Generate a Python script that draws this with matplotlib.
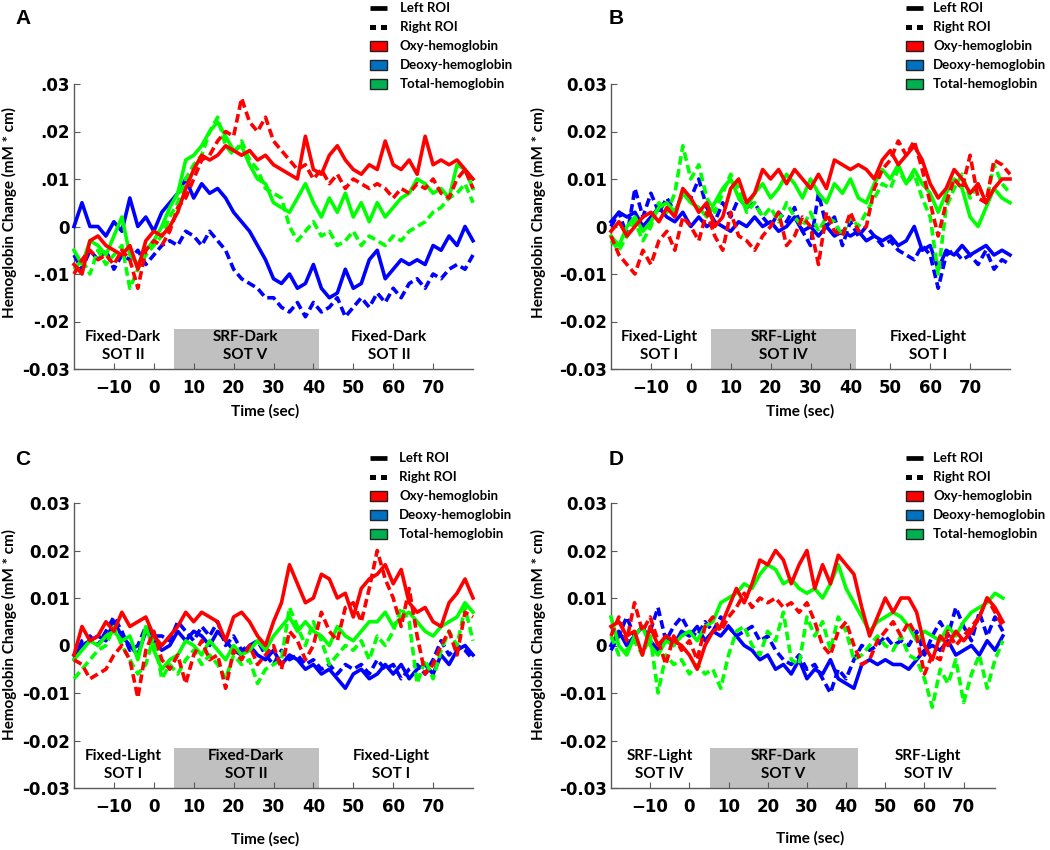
import numpy as np
import matplotlib
matplotlib.use("Agg")
import matplotlib.pyplot as plt
from matplotlib.lines import Line2D
from matplotlib.patches import Rectangle

# time grid (sec), one value every 2 s
t = list(range(-20, 81, 2))

# hemoglobin change, in 1e-3 mM*cm
# panel A
a_oxy_l = [-8, -10, -3, -2, -4, -5, -6, -4, -9, -3, -1, -2, 0, 3, 8, 12, 15, 14, 15, 17,
           16, 15, 16, 14, 15, 13, 12, 11, 10, 19, 12, 11, 15, 17, 14, 12, 11, 13, 12, 18,
           13, 12, 14, 11, 19, 13, 14, 13, 14, 12, 10]
a_oxy_r = [-10, -7, -5, -7, -6, -8, -5, -7, -13, -5, -3, -4, -1, 4, 6, 10, 14, 15, 18, 20,
           19, 27, 22, 20, 23, 18, 16, 14, 12, 13, 10, 12, 9, 11, 8, 10, 9, 8, 9, 8,
           6, 8, 7, 9, 8, 10, 7, 6, 10, 12, 8]
a_deo_l = [0, 5, 0, 0, -2, 1, -1, 6, 0, 2, -1, 3, 5, 7, 10, 6, 9, 7, 8, 6,
           3, 1, -1, -4, -7, -11, -12, -10, -13, -12, -8, -13, -15, -14, -9, -13, -12, -7, -5, -11,
           -9, -7, -8, -7, -8, -4, -5, -2, -4, 0, -3]
a_deo_r = [-6, -9, -5, -7, -5, -9, -6, -7, -5, -8, -6, -4, -3, -4, -1, -2, -4, -1, -3, -5,
           -9, -11, -12, -13, -15, -15, -17, -18, -16, -19, -16, -18, -17, -15, -19, -17, -15, -17, -14, -16,
           -13, -15, -12, -11, -13, -10, -11, -9, -8, -9, -6]
a_tot_l = [-5, -8, -3, -4, -6, -2, 2, -6, -8, -5, -3, 0, 4, 7, 14, 15, 17, 20, 22, 19,
           16, 17, 13, 10, 9, 5, 4, 3, 6, 9, 5, 2, 6, 3, 7, 2, 5, 1, 5, 2,
           4, 6, 7, 10, 9, 7, 8, 6, 13, 12, 8]
a_tot_r = [-9, -7, -10, -5, -8, -6, -4, -13, -9, -6, -4, -2, 2, 5, 10, 13, 15, 20, 23, 17,
           15, 18, 14, 12, 8, 7, 6, 0, -3, -1, 1, -2, -1, -4, -3, -1, -4, -2, -3, -4,
           -2, -3, -1, 0, 1, 3, 4, 6, 7, 9, 5]

# panel B
b_oxy_l = [-1, 1, -2, 0, 2, 3, 1, 4, 2, 8, 6, 3, 5, 0, 2, 8, 10, 5, 7, 12,
           10, 12, 9, 12, 10, 8, 11, 8, 14, 13, 12, 13, 12, 10, 14, 16, 13, 15, 17, 14,
           9, 6, 8, 12, 10, 7, 9, 5, 8, 10, 10]
b_oxy_r = [-2, -6, -8, -10, -5, -8, -3, -1, -5, 2, 0, -3, 3, -2, -5, 3, -2, -3, -5, -2,
           0, 3, -4, -2, 2, 0, -8, 3, -1, -2, 3, -1, 0, 8, 12, 14, 18, 15, 18, 12,
           5, -2, 5, 10, 8, 15, 6, 5, 14, 13, 11]
b_deo_l = [1, 3, 2, 3, 0, 2, 4, 2, 1, 3, 0, 2, 0, 1, 0, -1, 1, 0, 2, 0,
           1, -1, 0, 2, -1, 0, -2, 0, -2, -1, -2, -1, -3, -2, -3, -2, -4, -3, 0, -5,
           -4, -9, -5, -6, -4, -6, -5, -4, -6, -5, -6]
b_deo_r = [0, 3, -2, 8, 2, 7, 3, 6, 3, 7, 6, 10, 4, 1, 5, 2, 6, 4, 5, 2,
           0, 3, 1, 4, -1, -4, 7, 0, 2, -4, 1, -2, 0, -2, -4, -3, -5, -6, -7, -4,
           -6, -13, -6, -5, -7, -6, -8, -5, -9, -7, -8]
b_tot_l = [-2, -4, 0, 2, -1, 1, 4, 5, 3, 7, 5, 4, 2, 5, 8, 10, 6, 4, 7, 9,
           6, 8, 11, 9, 6, 10, 7, 5, 9, 7, 10, 6, 5, 9, 12, 10, 13, 9, 12, 9,
           7, 3, 7, 10, 8, 2, 0, 4, 8, 6, 5]
b_tot_r = [-3, -5, -2, 1, -3, 0, 5, 3, 7, 17, 10, 13, 6, 3, 7, 11, 8, 3, 5, 2,
           4, 1, 5, 2, 0, 3, -1, 2, 1, -2, 2, 0, 3, 6, 9, 8, 12, 9, 11, 6,
           2, -10, 4, 8, 11, 6, 9, 5, 13, 9, 7]

# panel C
c_oxy_l = [-2, 4, 1, 2, 5, 3, 7, 4, 5, 6, 2, 0, 2, 4, 7, 5, 7, 6, 5, 1,
           6, 7, 5, 2, 0, 5, 9, 17, 13, 9, 10, 15, 14, 10, 11, 6, 12, 14, 15, 17,
           13, 16, 9, 7, 8, 5, 4, 9, 11, 14, 10]
c_oxy_r = [-3, -4, -7, -6, -5, -2, 0, -3, -11, -1, 3, -3, -5, -2, -8, -2, 1, -3, -2, -9,
           -1, -3, 0, -4, -2, 0, -5, 3, 1, -3, 0, 7, 3, 1, 8, 9, 5, 12, 20, 14,
           10, 4, 12, 2, -6, -4, 0, 3, -2, 7, 6]
c_deo_l = [-2, 0, 1, 2, 1, 5, 2, 0, -2, 3, 1, -1, 0, 3, 1, 3, 2, 0, 3, 1,
           -1, -2, 0, -2, -3, -1, -4, -2, -3, -5, -4, -6, -5, -7, -9, -6, -5, -7, -6, -4,
           -6, -4, -7, -5, -4, -6, -2, -4, -1, 0, -2]
c_deo_r = [-3, 1, 2, 0, 3, 6, 3, -1, 0, 4, 2, 2, 1, 5, 3, 1, 4, 2, 5, 0,
           2, -1, 0, 1, -2, -4, -1, -3, -2, -4, -3, -5, -4, -6, -4, -5, -4, -6, -3, -5,
           -4, -7, -5, -4, -6, -3, 1, -2, 0, -1, -3]
c_tot_l = [-3, -1, 1, 0, 2, 3, 1, 2, -3, 4, -1, -5, -3, -2, 1, 0, -2, 1, -1, -3,
           0, -2, -1, 1, -1, 2, 4, 6, 3, 5, 3, 2, 0, 4, 2, 1, 3, 5, 5, 7,
           4, 6, 7, 5, 3, 2, 4, 5, 6, 9, 7]
c_tot_r = [-7, -5, -3, -1, 0, 4, 0, -3, -6, -4, 2, -7, -4, -6, -3, -1, -4, -2, -4, -7,
           -2, -4, -3, -8, -5, -4, -3, 8, 4, 0, 5, 1, -4, -2, 0, -1, 1, -3, 2, 0,
           3, 8, 5, -8, -3, -7, -1, 3, 0, 8, 1]

# panel D
d_oxy_l = [4, 5, 2, 3, -2, 4, 0, 2, 1, 0, -2, -5, 0, 3, 4, 8, 12, 9, 13, 18,
           17, 20, 18, 13, 17, 20, 12, 17, 13, 19, 17, 15, 8, 2, 6, 10, 7, 10, 10, 7,
           0, -3, 2, 0, 3, 1, 3, 6, 10, 8, 5]
d_oxy_r = [2, 6, 1, 9, 3, 6, 1, -4, 2, -1, 1, -3, 4, 6, 3, 6, 8, 11, 8, 10,
           9, 10, 8, 9, 7, 9, 5, 0, -2, 3, 5, 0, -4, -3, 1, 3, 5, 2, 5, 2,
           -6, -2, -3, 3, 0, 2, 4, 6, 10, 7, 4]
d_deo_l = [0, 3, 0, 2, 4, 1, -1, 2, 0, 3, 2, 4, 1, 3, 2, 4, 2, 0, -1, -3,
           -2, -5, -4, -6, -3, -7, -5, -6, -3, -7, -8, -9, -4, -3, -4, -3, -4, -4, -5, -3,
           -1, 0, -1, 1, -2, -1, 0, -2, 1, -1, 2]
d_deo_r = [-1, 2, 6, 2, 4, 3, 8, 1, 4, 6, 3, 2, 5, 3, 6, 4, 2, 3, 4, 1,
           2, -1, -3, -4, -2, -5, -4, -7, -10, -5, -7, -3, 0, -1, 0, 2, 0, 1, 0, 3,
           -2, 2, 5, 2, 8, 4, 1, 7, 2, 6, 3]
d_tot_l = [6, 0, -2, 2, 4, 0, -2, 1, 0, 2, 3, 1, 4, 5, 9, 10, 11, 13, 12, 15,
           17, 16, 13, 14, 12, 11, 12, 10, 13, 17, 12, 9, 6, 3, 5, 6, 7, 6, 4, 1,
           3, 2, 1, 4, 2, 5, 7, 8, 9, 11, 10]
d_tot_r = [2, -2, -1, 1, -2, 2, -10, -2, -4, -3, -6, -4, -6, -5, -9, -2, 3, 4, 0, -2,
           3, 1, 7, -3, -4, 6, 2, 5, -1, 6, 3, -3, -2, 0, 2, 0, -1, 2, -2, -3,
           -7, -13, -5, -8, -3, -12, -6, -2, -9, -3, 1]

yticks = [-0.03, -0.02, -0.01, 0, 0.01, 0.02, 0.03]
ylabels_a = ['-0.03', '-.02', '-.01', '0', '.01', '.02', '.03']
ylabels = ['-0.03', '-0.02', '-0.01', '0', '0.01', '0.02', '0.03']

W, H = 1050, 850
fig = plt.figure(figsize=(10.5, 8.5), dpi=100)


def rect(l, r, top, bot):
    return [l / W, 1 - bot / H, (r - l) / W, (bot - top) / H]


def fxy(px, py):
    return px / W, 1 - py / H


panels = [
    dict(letter='A', pos=rect(74, 473, 84, 369), xlim=(-20, 80), box=(5, 41.5),
         ylab=ylabels_a, lp=(23, 18), yl=(9, 213), xl=(265, 411), leg=(370, 400, 8),
         phases=[('Fixed-Dark', 'SOT II', -7.75), ('SRF-Dark', 'SOT V', 23), ('Fixed-Dark', 'SOT II', 59)],
         data=(a_oxy_l, a_oxy_r, a_deo_l, a_deo_r, a_tot_l, a_tot_r)),
    dict(letter='B', pos=rect(611, 1010, 84, 369), xlim=(-20, 80), box=(5, 41.5),
         ylab=ylabels, lp=(616, 18), yl=(538, 213), xl=(800, 411), leg=(906, 933, 8),
         phases=[('Fixed-Light', 'SOT I', -8), ('SRF-Light', 'SOT IV', 23.25), ('Fixed-Light', 'SOT I', 59.5)],
         data=(b_oxy_l, b_oxy_r, b_deo_l, b_deo_r, b_tot_l, b_tot_r)),
    dict(letter='C', pos=rect(74, 473, 503, 788), xlim=(-20, 80), box=(5, 41.5),
         ylab=ylabels, lp=(23, 460), yl=(9, 634), xl=(265, 839), leg=(370, 399, 458),
         phases=[('Fixed-Light', 'SOT I', -7.75), ('Fixed-Dark', 'SOT II', 23.1), ('Fixed-Light', 'SOT I', 59.4)],
         data=(c_oxy_l, c_oxy_r, c_deo_l, c_deo_r, c_tot_l, c_tot_r)),
    dict(letter='D', pos=rect(611, 995, 503, 788), xlim=(-20, 78), box=(5.3, 43),
         ylab=ylabels, lp=(616, 460), yl=(538, 634), xl=(810, 838), leg=(906, 933, 458),
         phases=[('SRF-Light', 'SOT IV', -7.6), ('SRF-Dark', 'SOT V', 24), ('SRF-Light', 'SOT IV', 61)],
         data=(d_oxy_l, d_oxy_r, d_deo_l, d_deo_r, d_tot_l, d_tot_r)),
]

spine_c = '#5a5a5a'
lab_font = 'Lato'

for p in panels:
    ax = fig.add_axes(p['pos'])
    oxy_l, oxy_r, deo_l, deo_r, tot_l, tot_r = p['data']
    styles = [(deo_r, 'blue', True), (deo_l, 'blue', False),
              (tot_r, 'lime', True), (tot_l, 'lime', False),
              (oxy_r, 'red', True), (oxy_l, 'red', False)]
    for vals, col, dashed in styles:
        y = np.array(vals) * 1e-3
        if dashed:
            ax.plot(t, y, color=col, lw=2.6, dashes=(2.4, 1.2), clip_on=False, zorder=3)
        else:
            ax.plot(t, y, color=col, lw=2.6, clip_on=False, zorder=3)

    x0, x1 = p['box']
    ax.add_patch(Rectangle((x0, -0.03), x1 - x0, 0.0085, facecolor='#c0c0c0',
                           edgecolor='none', zorder=1))
    for name, sot, xc in p['phases']:
        ax.text(xc, -0.0232, name, ha='center', va='center', fontsize=11,
                fontweight='bold', family=lab_font, zorder=4)
        ax.text(xc, -0.0271, sot, ha='center', va='center', fontsize=11,
                fontweight='bold', family=lab_font, zorder=4)

    ax.set_xlim(*p['xlim'])
    ax.set_ylim(-0.03, 0.03)
    ax.set_xticks(range(-10, 71, 10))
    ax.set_yticks(yticks)
    ax.set_yticklabels(p['ylab'])
    ax.spines['top'].set_visible(False)
    ax.spines['right'].set_visible(False)
    for s in ['left', 'bottom']:
        ax.spines[s].set_color(spine_c)
        ax.spines[s].set_linewidth(1.0)
    ax.tick_params(axis='both', direction='in', length=4, color=spine_c, labelsize=12)
    ax.tick_params(axis='x', pad=7)
    ax.tick_params(axis='y', pad=3)
    for lab in ax.get_xticklabels() + ax.get_yticklabels():
        lab.set_fontweight('bold')
        lab.set_family('DejaVu Sans')

    # panel letter, axis titles
    fig.text(*fxy(*p['lp']), p['letter'], fontsize=15, fontweight='bold',
             family='Liberation Sans', ha='center', va='center')
    fig.text(*fxy(*p['yl']), 'Hemoglobin Change (mM * cm)', rotation=90, fontsize=11,
             fontweight='bold', family=lab_font, ha='center', va='center')
    fig.text(*fxy(*p['xl']), 'Time (sec)', fontsize=11, fontweight='bold',
             family=lab_font, ha='center', va='center')

    # legend
    px, tx, py = p['leg']
    rows = ['Left ROI', 'Right ROI', 'Oxy-hemoglobin', 'Deoxy-hemoglobin', 'Total-hemoglobin']
    fills = [None, None, '#ff0000', '#0070c0', '#00b050']
    for i, (txt, fc) in enumerate(zip(rows, fills)):
        yy = py + i * 19
        if i == 0:
            xa, ya = fxy(px, yy)
            xb, _ = fxy(px + 17, yy)
            fig.add_artist(Line2D([xa, xb], [ya, ya], color='black', lw=3.4,
                                  solid_capstyle='butt', transform=fig.transFigure))
        elif i == 1:
            for sx in (px, px + 11):
                xa, ya = fxy(sx, yy + 2.5)
                fig.add_artist(Rectangle((xa, ya), 6 / W, 5 / H, facecolor='black',
                                         edgecolor='none', transform=fig.transFigure))
        else:
            xa, ya = fxy(px, yy + 5)
            fig.add_artist(Rectangle((xa, ya), 17 / W, 10 / H, facecolor=fc,
                                     edgecolor='#222222', lw=1, transform=fig.transFigure))
        fig.text(*fxy(tx, yy), txt, fontsize=9.5, fontweight='bold', family=lab_font,
                 ha='left', va='center')

fig.savefig('out.png', dpi=100)
